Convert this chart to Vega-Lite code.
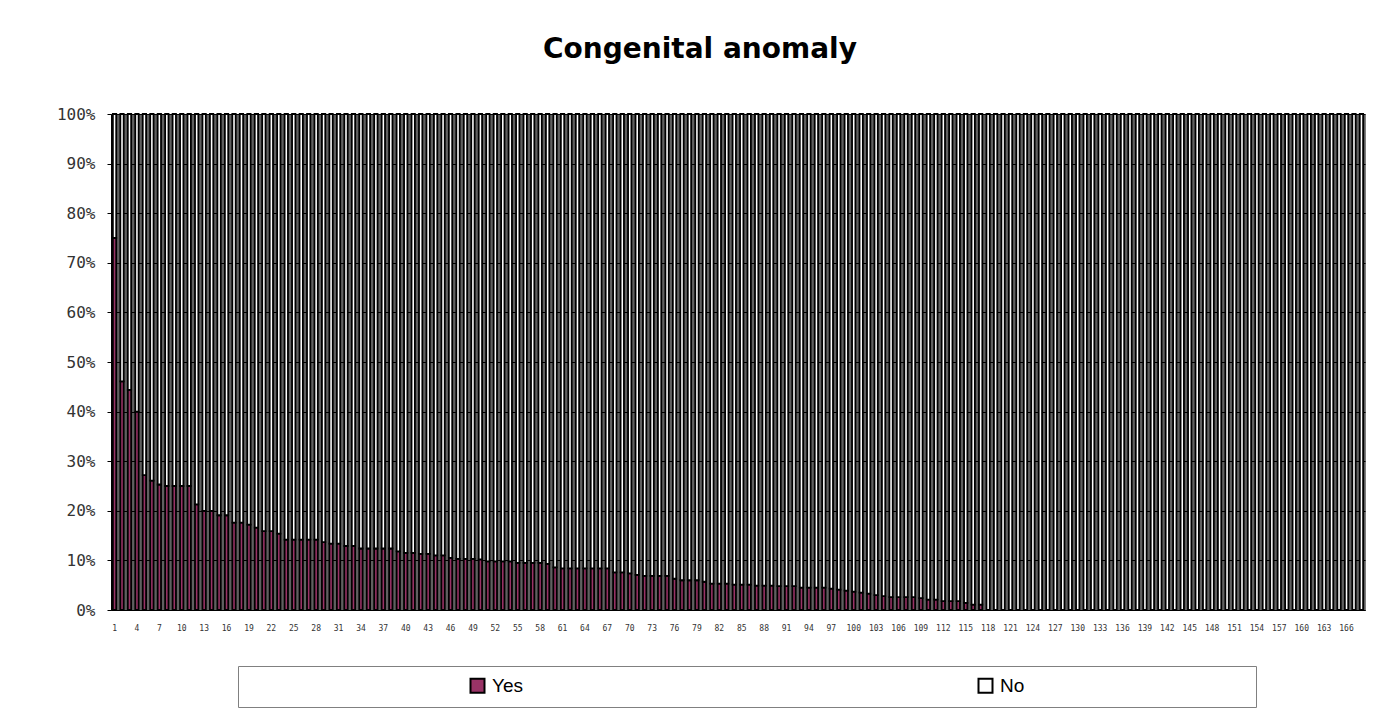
{
  "$schema": "https://vega.github.io/schema/vega-lite/v6.json",
  "width": 1254,
  "height": 496,
  "autosize": "none",
  "padding": {"left": 111, "top": 114, "right": 18, "bottom": 109},
  "background": "white",
  "title": {
    "text": "Congenital anomaly",
    "font": "DejaVu Sans",
    "fontSize": 28,
    "fontWeight": "bold",
    "color": "#000000",
    "anchor": "middle",
    "frame": "group",
    "baseline": "alphabetic",
    "offset": 20,
    "dx": -38
  },
  "data": {
    "values": [
      {"c":1,"Yes":75,"No":25},{"c":2,"Yes":46.1,"No":53.9},{"c":3,"Yes":44.4,"No":55.6},{"c":4,"Yes":40,"No":60},
      {"c":5,"Yes":27.2,"No":72.8},{"c":6,"Yes":26.1,"No":73.9},{"c":7,"Yes":25.3,"No":74.7},{"c":8,"Yes":25,"No":75},
      {"c":9,"Yes":25,"No":75},{"c":10,"Yes":25,"No":75},{"c":11,"Yes":25,"No":75},{"c":12,"Yes":21.3,"No":78.7},
      {"c":13,"Yes":20,"No":80},{"c":14,"Yes":20,"No":80},{"c":15,"Yes":19.1,"No":80.9},{"c":16,"Yes":19.1,"No":80.9},
      {"c":17,"Yes":17.6,"No":82.4},{"c":18,"Yes":17.6,"No":82.4},{"c":19,"Yes":17.2,"No":82.8},{"c":20,"Yes":16.6,"No":83.4},
      {"c":21,"Yes":15.9,"No":84.1},{"c":22,"Yes":15.9,"No":84.1},{"c":23,"Yes":15.4,"No":84.6},{"c":24,"Yes":14.2,"No":85.8},
      {"c":25,"Yes":14.2,"No":85.8},{"c":26,"Yes":14.2,"No":85.8},{"c":27,"Yes":14.2,"No":85.8},{"c":28,"Yes":14.2,"No":85.8},
      {"c":29,"Yes":13.7,"No":86.3},{"c":30,"Yes":13.4,"No":86.6},{"c":31,"Yes":13.4,"No":86.6},{"c":32,"Yes":12.9,"No":87.1},
      {"c":33,"Yes":12.9,"No":87.1},{"c":34,"Yes":12.4,"No":87.6},{"c":35,"Yes":12.4,"No":87.6},{"c":36,"Yes":12.4,"No":87.6},
      {"c":37,"Yes":12.4,"No":87.6},{"c":38,"Yes":12.4,"No":87.6},{"c":39,"Yes":11.8,"No":88.2},{"c":40,"Yes":11.5,"No":88.5},
      {"c":41,"Yes":11.5,"No":88.5},{"c":42,"Yes":11.3,"No":88.7},{"c":43,"Yes":11.3,"No":88.7},{"c":44,"Yes":11,"No":89},
      {"c":45,"Yes":11,"No":89},{"c":46,"Yes":10.5,"No":89.5},{"c":47,"Yes":10.3,"No":89.7},{"c":48,"Yes":10.3,"No":89.7},
      {"c":49,"Yes":10.3,"No":89.7},{"c":50,"Yes":10.2,"No":89.8},{"c":51,"Yes":9.8,"No":90.2},{"c":52,"Yes":9.8,"No":90.2},
      {"c":53,"Yes":9.8,"No":90.2},{"c":54,"Yes":9.8,"No":90.2},{"c":55,"Yes":9.5,"No":90.5},{"c":56,"Yes":9.5,"No":90.5},
      {"c":57,"Yes":9.5,"No":90.5},{"c":58,"Yes":9.5,"No":90.5},{"c":59,"Yes":9.3,"No":90.7},{"c":60,"Yes":8.6,"No":91.4},
      {"c":61,"Yes":8.4,"No":91.6},{"c":62,"Yes":8.4,"No":91.6},{"c":63,"Yes":8.4,"No":91.6},{"c":64,"Yes":8.4,"No":91.6},
      {"c":65,"Yes":8.4,"No":91.6},{"c":66,"Yes":8.4,"No":91.6},{"c":67,"Yes":8.4,"No":91.6},{"c":68,"Yes":7.6,"No":92.4},
      {"c":69,"Yes":7.6,"No":92.4},{"c":70,"Yes":7.4,"No":92.6},{"c":71,"Yes":7.1,"No":92.9},{"c":72,"Yes":6.9,"No":93.1},
      {"c":73,"Yes":6.9,"No":93.1},{"c":74,"Yes":6.9,"No":93.1},{"c":75,"Yes":6.9,"No":93.1},{"c":76,"Yes":6.3,"No":93.7},
      {"c":77,"Yes":6,"No":94},{"c":78,"Yes":6,"No":94},{"c":79,"Yes":6,"No":94},{"c":80,"Yes":5.7,"No":94.3},
      {"c":81,"Yes":5.3,"No":94.7},{"c":82,"Yes":5.3,"No":94.7},{"c":83,"Yes":5.3,"No":94.7},{"c":84,"Yes":5.1,"No":94.9},
      {"c":85,"Yes":5.1,"No":94.9},{"c":86,"Yes":5.1,"No":94.9},{"c":87,"Yes":4.9,"No":95.1},{"c":88,"Yes":4.9,"No":95.1},
      {"c":89,"Yes":4.9,"No":95.1},{"c":90,"Yes":4.8,"No":95.2},{"c":91,"Yes":4.8,"No":95.2},{"c":92,"Yes":4.8,"No":95.2},
      {"c":93,"Yes":4.5,"No":95.5},{"c":94,"Yes":4.5,"No":95.5},{"c":95,"Yes":4.5,"No":95.5},{"c":96,"Yes":4.5,"No":95.5},
      {"c":97,"Yes":4.3,"No":95.7},{"c":98,"Yes":4.1,"No":95.9},{"c":99,"Yes":3.9,"No":96.1},{"c":100,"Yes":3.7,"No":96.3},
      {"c":101,"Yes":3.5,"No":96.5},{"c":102,"Yes":3.3,"No":96.7},{"c":103,"Yes":3,"No":97},{"c":104,"Yes":2.8,"No":97.2},
      {"c":105,"Yes":2.6,"No":97.4},{"c":106,"Yes":2.6,"No":97.4},{"c":107,"Yes":2.6,"No":97.4},{"c":108,"Yes":2.6,"No":97.4},
      {"c":109,"Yes":2.4,"No":97.6},{"c":110,"Yes":2.1,"No":97.9},{"c":111,"Yes":2.1,"No":97.9},{"c":112,"Yes":1.8,"No":98.2},
      {"c":113,"Yes":1.8,"No":98.2},{"c":114,"Yes":1.8,"No":98.2},{"c":115,"Yes":1.45,"No":98.55},{"c":116,"Yes":1.1,"No":98.9},
      {"c":117,"Yes":1.1,"No":98.9},{"c":118,"Yes":0,"No":100},{"c":119,"Yes":0,"No":100},{"c":120,"Yes":0,"No":100},
      {"c":121,"Yes":0,"No":100},{"c":122,"Yes":0,"No":100},{"c":123,"Yes":0,"No":100},{"c":124,"Yes":0,"No":100},
      {"c":125,"Yes":0,"No":100},{"c":126,"Yes":0,"No":100},{"c":127,"Yes":0,"No":100},{"c":128,"Yes":0,"No":100},
      {"c":129,"Yes":0,"No":100},{"c":130,"Yes":0,"No":100},{"c":131,"Yes":0,"No":100},{"c":132,"Yes":0,"No":100},
      {"c":133,"Yes":0,"No":100},{"c":134,"Yes":0,"No":100},{"c":135,"Yes":0,"No":100},{"c":136,"Yes":0,"No":100},
      {"c":137,"Yes":0,"No":100},{"c":138,"Yes":0,"No":100},{"c":139,"Yes":0,"No":100},{"c":140,"Yes":0,"No":100},
      {"c":141,"Yes":0,"No":100},{"c":142,"Yes":0,"No":100},{"c":143,"Yes":0,"No":100},{"c":144,"Yes":0,"No":100},
      {"c":145,"Yes":0,"No":100},{"c":146,"Yes":0,"No":100},{"c":147,"Yes":0,"No":100},{"c":148,"Yes":0,"No":100},
      {"c":149,"Yes":0,"No":100},{"c":150,"Yes":0,"No":100},{"c":151,"Yes":0,"No":100},{"c":152,"Yes":0,"No":100},
      {"c":153,"Yes":0,"No":100},{"c":154,"Yes":0,"No":100},{"c":155,"Yes":0,"No":100},{"c":156,"Yes":0,"No":100},
      {"c":157,"Yes":0,"No":100},{"c":158,"Yes":0,"No":100},{"c":159,"Yes":0,"No":100},{"c":160,"Yes":0,"No":100},
      {"c":161,"Yes":0,"No":100},{"c":162,"Yes":0,"No":100},{"c":163,"Yes":0,"No":100},{"c":164,"Yes":0,"No":100},
      {"c":165,"Yes":0,"No":100},{"c":166,"Yes":0,"No":100},{"c":167,"Yes":0,"No":100},{"c":168,"Yes":0,"No":100}
    ]
  },
  "transform": [{"fold": ["Yes", "No"], "as": ["answer", "pct"]}],
  "mark": {"type": "bar", "stroke": "#000000", "strokeWidth": 1.8},
  "encoding": {
    "x": {
      "field": "c",
      "type": "ordinal",
      "sort": "ascending",
      "scale": {"paddingInner": 0.55, "paddingOuter": 0.25},
      "axis": {
        "title": null,
        "labelAngle": 0,
        "labelFont": "DejaVu Sans Mono",
        "labelFontSize": 8,
        "labelColor": "#333333",
        "labelOverlap": false,
        "labelPadding": 14,
        "ticks": false,
        "domainColor": "#000000",
        "labelExpr": "(datum.value - 1) % 3 == 0 ? datum.label : ''"
      }
    },
    "y": {
      "field": "pct",
      "type": "quantitative",
      "stack": "normalize",
      "scale": {"domain": [0, 1]},
      "axis": {
        "title": null,
        "values": [0, 0.1, 0.2, 0.3, 0.4, 0.5, 0.6, 0.7, 0.8, 0.9, 1],
        "format": ".0%",
        "labelFont": "DejaVu Sans Mono",
        "labelFontSize": 16,
        "labelColor": "#333333",
        "labelPadding": 12,
        "tickSize": 4,
        "tickColor": "#000000",
        "domainColor": "#000000",
        "grid": true,
        "gridColor": "#000000",
        "gridWidth": 1,
        "gridOpacity": 1
      }
    },
    "color": {
      "field": "answer",
      "type": "nominal",
      "scale": {"domain": ["Yes", "No"], "range": ["#993366", "#ffffff"]},
      "legend": {
        "title": " ",
        "titleOrient": "right",
        "titlePadding": 222,
        "titleFontSize": 10,
        "orient": "none",
        "legendX": 127,
        "legendY": 552,
        "direction": "horizontal",
        "columns": 2,
        "columnPadding": 233,
        "padding": 10,
        "strokeColor": "#808080",
        "fillColor": "#ffffff",
        "symbolType": "square",
        "symbolSize": 196,
        "symbolStrokeColor": "#000000",
        "symbolStrokeWidth": 2,
        "symbolOpacity": 1,
        "symbolOffset": 220,
        "labelOffset": 5,
        "labelFont": "Liberation Sans",
        "labelFontSize": 19,
        "labelColor": "#000000"
      }
    },
    "order": {"field": "answer", "sort": "descending"}
  },
  "config": {
    "view": {"fill": "#606060", "stroke": "#808080", "strokeWidth": 1}
  }
}
